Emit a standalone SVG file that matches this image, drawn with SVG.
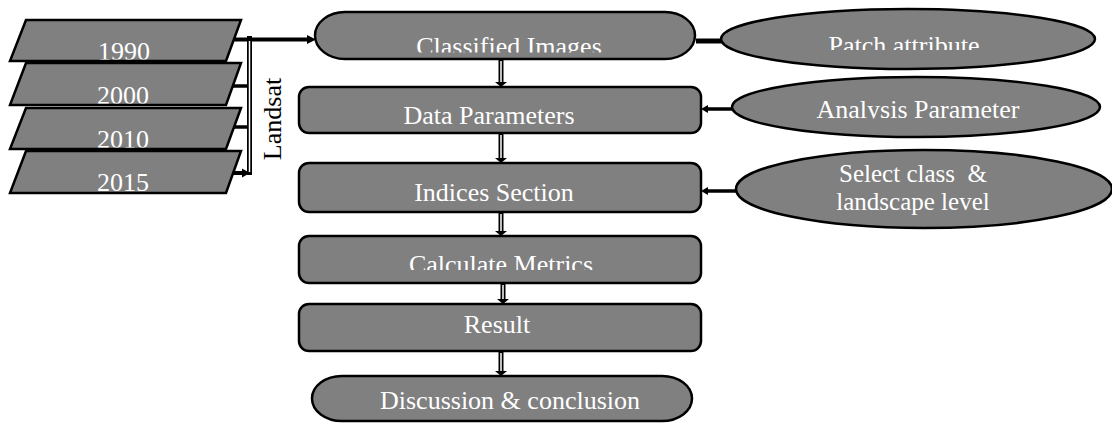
<svg xmlns="http://www.w3.org/2000/svg" width="1112" height="423" viewBox="0 0 1112 423">
<style>
.shape{fill:#808080;stroke:#000;stroke-width:2.5}
text{font-family:'Liberation Serif','DejaVu Serif','Times New Roman',serif;font-size:26px;text-anchor:middle}
.t{fill:#fff}
.lbl{fill:#000}
.thick{stroke:#000;fill:none}
.dbl{stroke:#000;stroke-width:5;fill:none}
.dblin{stroke:#fff;stroke-width:1.5;fill:none}
.head{fill:#000}
</style>
<defs>
<clipPath id="c1990"><rect x="0" y="20" width="260" height="39.5"/></clipPath>
<clipPath id="c2000"><rect x="0" y="63" width="260" height="40.5"/></clipPath>
<clipPath id="c2010"><rect x="0" y="108" width="260" height="39.5"/></clipPath>
<clipPath id="c2015"><rect x="0" y="151" width="260" height="40.5"/></clipPath>
<clipPath id="cCI"><rect x="300" y="10" width="410" height="42.5"/></clipPath>
<clipPath id="cPA"><rect x="720" y="5" width="390" height="45"/></clipPath>
<clipPath id="cAP"><rect x="720" y="75" width="390" height="43.5"/></clipPath>
<clipPath id="cCM"><rect x="300" y="235" width="410" height="35"/></clipPath>
</defs>
<g id="connectors">
<line class="thick" x1="233" y1="39.5" x2="309" y2="39.5" stroke-width="4"/>
<polygon class="head" points="316,39.5 307,35 307,44"/>
<line class="thick" x1="233" y1="86" x2="248" y2="86" stroke-width="3.5"/>
<line class="thick" x1="233" y1="127" x2="248" y2="127" stroke-width="3.5"/>
<line class="thick" x1="228" y1="173" x2="243" y2="173" stroke-width="4"/>
<polygon class="head" points="250,173 242,168.5 242,177.5"/>
<line class="dbl" x1="249.5" y1="36" x2="249.5" y2="175"/>
<line class="dblin" x1="249.5" y1="41" x2="249.5" y2="172"/>
<line class="dbl" x1="501" y1="59" x2="501" y2="83"/>
<line class="dblin" x1="501" y1="61" x2="501" y2="82"/>
<polygon class="head" points="501,87 495,82 507,82"/>
<line class="dbl" x1="501" y1="133" x2="501" y2="159"/>
<line class="dblin" x1="501" y1="135" x2="501" y2="158"/>
<polygon class="head" points="501,163 495,158 507,158"/>
<line class="dbl" x1="501" y1="212" x2="501" y2="232"/>
<line class="dblin" x1="501" y1="214" x2="501" y2="231"/>
<polygon class="head" points="501,236 495,231 507,231"/>
<line class="dbl" x1="503" y1="283" x2="503" y2="300"/>
<line class="dblin" x1="503" y1="285" x2="503" y2="299"/>
<polygon class="head" points="503,304 497,299 509,299"/>
<line class="dbl" x1="501" y1="351" x2="501" y2="372"/>
<line class="dblin" x1="501" y1="353" x2="501" y2="371"/>
<polygon class="head" points="501,376 495,371 507,371"/>
<line class="thick" x1="723" y1="41" x2="696" y2="41" stroke-width="5"/>
<line class="thick" x1="733" y1="109" x2="706" y2="109" stroke-width="3.5"/>
<polygon class="head" points="701,109 708,105 708,113"/>
<line class="thick" x1="736" y1="191" x2="706" y2="191" stroke-width="3.5"/>
<polygon class="head" points="701,191 708,187 708,195"/>
</g>
<g id="n1990"><polygon class="shape" points="26,20 241,20 226,61 10,61"/><text class="t" x="124" y="60" clip-path="url(#c1990)">1990</text></g>
<g id="n2000"><polygon class="shape" points="26,63 241,63 226,105 10,105"/><text class="t" x="123" y="104" clip-path="url(#c2000)">2000</text></g>
<g id="n2010"><polygon class="shape" points="26,108 241,108 226,149 10,149"/><text class="t" x="123" y="148" clip-path="url(#c2010)">2010</text></g>
<g id="n2015"><polygon class="shape" points="26,151 241,151 226,193 10,193"/><text class="t" x="123" y="191" clip-path="url(#c2015)">2015</text></g>
<g id="landsat"><text class="lbl" transform="translate(281,119) rotate(-90)">Landsat</text></g>
<g id="classified"><rect class="shape" x="315" y="12" width="380" height="47" rx="30" ry="23.5"/><text class="t" x="509" y="54.5" clip-path="url(#cCI)">Classified Images</text></g>
<g id="dataparams"><rect class="shape" x="299" y="87" width="402" height="46" rx="10"/><text class="t" x="489" y="124">Data Parameters</text></g>
<g id="indices"><rect class="shape" x="299" y="163" width="402" height="49" rx="10"/><text class="t" x="494" y="201">Indices Section</text></g>
<g id="calc"><rect class="shape" x="299" y="236" width="402" height="47" rx="10"/><text class="t" x="501" y="272.5" clip-path="url(#cCM)">Calculate Metrics</text></g>
<g id="result"><rect class="shape" x="299" y="304" width="402" height="47" rx="10"/><text class="t" x="497" y="333">Result</text></g>
<g id="discussion"><rect class="shape" x="312" y="376" width="380" height="45" rx="30" ry="22.5"/><text class="t" x="510" y="409">Discussion &amp; conclusion</text></g>
<g id="patch"><ellipse class="shape" cx="908" cy="39" rx="187" ry="30"/><text class="t" x="904" y="53.5" clip-path="url(#cPA)">Patch attribute</text></g>
<g id="analysis"><ellipse class="shape" cx="916" cy="107" rx="184" ry="30"/><text class="t" x="918" y="117.5" clip-path="url(#cAP)">Analysis Parameter</text></g>
<g id="select"><ellipse class="shape" cx="924" cy="189" rx="188" ry="39"/><text class="t" style="font-size:25px" xml:space="preserve"><tspan x="913" y="182">Select class  &amp;</tspan><tspan x="913" y="210">landscape level</tspan></text></g>
</svg>
